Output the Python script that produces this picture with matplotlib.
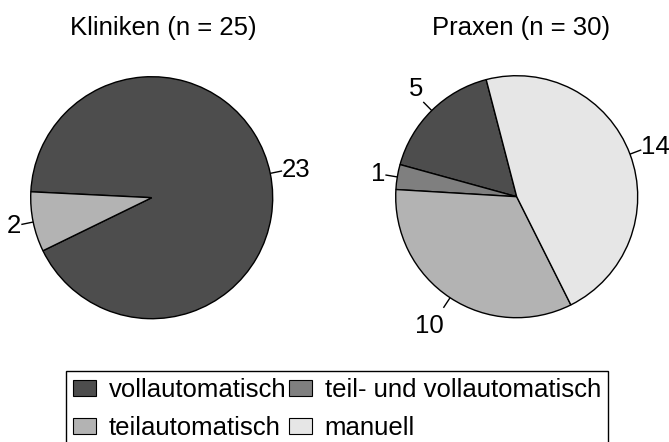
import numpy as np
import matplotlib
matplotlib.use("Agg")
import matplotlib.pyplot as plt
from matplotlib.patches import Patch

plt.rcParams['font.family'] = ['Liberation Sans', 'DejaVu Sans']

# ---- data ----
categories = ['vollautomatisch', 'teil- und vollautomatisch', 'teilautomatisch', 'manuell']
colors = ['#4D4D4D', '#7F7F7F', '#B3B3B3', '#E6E6E6']
kliniken = [23, 0, 2, 0]
praxen = [5, 1, 10, 14]
titles = ['Kliniken (n = 25)', 'Praxen (n = 30)']

W, H = 669, 442
FS = 18.5

fig = plt.figure(figsize=(W / 100, H / 100), dpi=100)
ax = fig.add_axes([0, 0, 1, 1])


def draw_pie(values, center, radius, startangle, title, title_x):
    vals = [v for v in values if v > 0]
    cols = [c for v, c in zip(values, colors) if v > 0]
    wedges, _ = ax.pie(vals, colors=cols, center=center, radius=radius,
                       startangle=startangle, counterclock=True, frame=True,
                       wedgeprops=dict(edgecolor='black', linewidth=1.0))
    for w, v in zip(wedges, vals):
        th = np.deg2rad((w.theta1 + w.theta2) / 2)
        c, s = np.cos(th), np.sin(th)
        ax.plot([center[0] + radius * c, center[0] + 1.1 * radius * c],
                [center[1] + radius * s, center[1] + 1.1 * radius * s],
                color='black', lw=1.0, solid_capstyle='butt')
        ax.annotate(str(v), xy=(center[0] + 1.1 * radius * c, center[1] + 1.1 * radius * s),
                    xytext=(0, 18.7 * s * abs(s)), textcoords='offset points',
                    ha='left' if c > 0 else 'right', va='center', fontsize=FS)
    ax.text(title_x, H - 35.5, title, ha='center', va='baseline', fontsize=FS)


draw_pie(kliniken, (151.7, H - 197.7), 121, 206, titles[0], 163.7)
draw_pie(praxen, (516.7, H - 196.7), 121, 104.6, titles[1], 521)

ax.set_xlim(0, W)
ax.set_ylim(0, H)
ax.set_aspect('equal')
ax.axis('off')

order = [0, 2, 1, 3]
handles = [Patch(facecolor=colors[i], edgecolor='black', linewidth=0.8, label=categories[i])
           for i in order]
leg = fig.legend(handles=handles, ncol=2, loc='upper left',
                 bbox_to_anchor=(65.7 / W, 1 - 370.5 / H), fontsize=FS,
                 frameon=True, fancybox=False, edgecolor='black', framealpha=1,
                 handlelength=0.87, handleheight=0.58, handletextpad=0.5,
                 columnspacing=0.12, borderpad=0.3, labelspacing=0.55, borderaxespad=0)
leg.get_frame().set_linewidth(1.0)

fig.savefig('out.png', dpi=100)
